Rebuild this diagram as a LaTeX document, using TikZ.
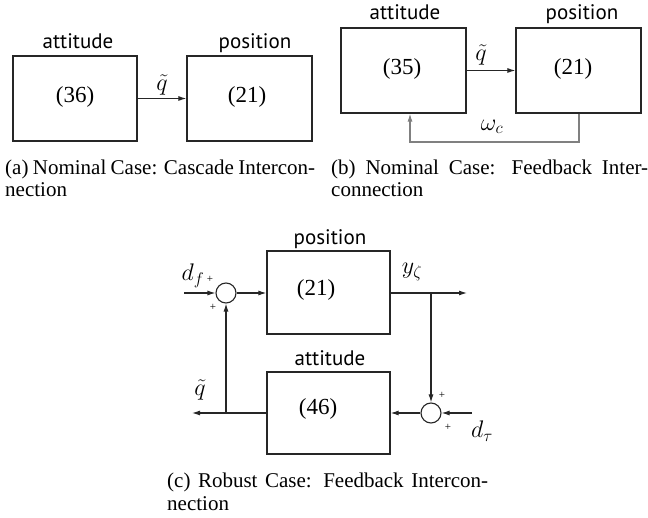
\RequirePackage{fix-cm}
\documentclass[tikz,border=0pt]{standalone}
\usepackage{fontspec}
\setmainfont{Liberation Serif}
\newfontfamily\labelfont{PT Sans}
\usetikzlibrary{arrows.meta}
\definecolor{boxc}{gray}{0.15}
\definecolor{fbc}{gray}{0.5}

\tikzset{
  block/.style={draw=boxc, line width=1.2pt, inner sep=0pt,
    minimum width=#1},
  sumnode/.style={circle, draw=boxc, line width=1.1pt, minimum size=20pt, inner sep=0pt},
  num/.style={font=\fontsize{23}{27}\selectfont, anchor=base, inner sep=0pt},
  title/.style={font=\labelfont\fontsize{21}{25}\selectfont, anchor=base, inner sep=0pt},
  mlabel/.style={font=\fontsize{24}{28}\selectfont, inner sep=0pt},
  plus/.style={font=\fontsize{11}{13}\selectfont, inner sep=0pt},
  capline/.style={font=\fontsize{21}{22}\selectfont, anchor=base west, inner sep=0pt},
  sig/.style={draw=boxc, line width=1.1pt, -{Latex[length=8pt,width=5pt]}},
  fbsig/.style={draw=fbc, line width=1.1pt, -{Latex[length=8pt,width=5pt]}},
}

\begin{document}
\begin{tikzpicture}[x=1pt, y=-1pt]
\useasboundingbox (0,0) rectangle (648,518);

% (a) cascade interconnection
\node[block=124pt, minimum height=85pt] (a1) at (75,98.5) {};
\node[block=125pt, minimum height=85pt] (a2) at (249.5,98.5) {};
\node[title] (a1t) at (78,49) {attitude};
\node[title] (a2t) at (255,49) {position};
\node[num] (a1n) at (75,103) {(36)};
\node[num] (a2n) at (247,103) {(21)};
\draw[sig] (a1) -- (a2);
\node[mlabel] (a12l) at (162,85) {$\tilde q$};
\node[capline] (acap1) at (5,175) {\makebox[310pt][s]{(a) Nominal Case: Cascade Intercon-}};
\node[capline] (acap2) at (5,197) {nection};

% (b) feedback interconnection
\node[block=125pt, minimum height=85pt] (b1) at (403.5,70.5) {};
\node[block=125pt, minimum height=85pt] (b2) at (578.5,70.5) {};
\node[title] (b1t) at (405,20) {attitude};
\node[title] (b2t) at (582,20) {position};
\node[num] (b1n) at (402,75) {(35)};
\node[num] (b2n) at (573,75) {(21)};
\draw[sig] (b1) -- (b2);
\node[mlabel] (b12l) at (481,55) {$\tilde q$};
\coordinate (fbR) at (579,142);
\coordinate (fbL) at (410,142);
\draw[fbsig] (b2.south -| fbR) -- (fbR) -- (fbL) -- (fbL |- b1.south);
\node[mlabel] (b21l) at (492,127) {$\omega_c$};
\node[capline] (bcap1) at (331,175) {\makebox[317pt][s]{(b) Nominal Case: Feedback Inter-}};
\node[capline] (bcap2) at (331,197) {connection};

% (c) robust feedback interconnection
\node[block=123pt, minimum height=83pt] (cpos) at (328.5,292.5) {};
\node[block=123pt, minimum height=82pt] (catt) at (328.5,413) {};
\node[title] (cpost) at (330,245) {position};
\node[title] (cattt) at (330,366) {attitude};
\node[num] (cposn) at (316,296) {(21)};
\node[num] (cattn) at (318,415) {(46)};
\node[sumnode] (s1) at (226,293) {};
\node[sumnode] (s2) at (431,413) {};
\coordinate (dfin) at (184,293);
\coordinate (yout) at (467,293);
\coordinate (ybr) at (431,293);
\coordinate (dtin) at (472,413);
\coordinate (qout) at (192,413);
\coordinate (qbr) at (226,413);
\draw[sig] (dfin) -- (s1);
\draw[sig] (s1) -- (s1 -| cpos.west);
\draw[sig] (cpos.east |- yout) -- (yout);
\draw[sig] (ybr) -- (s2);
\draw[sig] (dtin) -- (s2);
\draw[sig] (s2) -- (s2 -| catt.east);
\draw[sig] (catt.west |- qout) -- (qout);
\draw[sig] (qbr) -- (s1);
\node[mlabel] (dfl) at (193,276) {$d_f$};
\node[plus] (p1) at (210,279) {+};
\node[plus] (p2) at (213,307) {+};
\node[mlabel] (yl) at (412,272) {$y_\zeta$};
\node[mlabel] (ql) at (200,390) {$\tilde q$};
\node[plus] (p3) at (442,395) {+};
\node[plus] (p4) at (448,427) {+};
\node[mlabel] (dtl) at (482,431) {$d_\tau$};
\node[capline] (ccap1) at (167,487) {\makebox[321pt][s]{(c) Robust Case: Feedback Intercon-}};
\node[capline] (ccap2) at (167,510) {nection};
\end{tikzpicture}
\end{document}
